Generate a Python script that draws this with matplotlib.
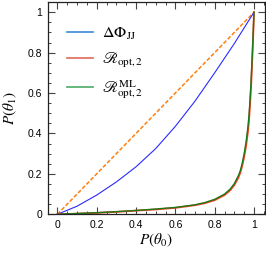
import matplotlib
matplotlib.use('Agg')
import matplotlib.pyplot as plt
from matplotlib.lines import Line2D
from matplotlib.ticker import MultipleLocator

plt.rcParams['mathtext.fontset'] = 'stix'
plt.rcParams['font.family'] = ['Liberation Sans', 'DejaVu Sans']

# diagonal reference
diag_x = [0.0, 1.0]
diag_y = [0.0, 1.0]

# Delta Phi_JJ
jj_x = [0.0, 0.1, 0.2, 0.3, 0.4, 0.5, 0.6, 0.7, 0.8, 0.9, 1.0]
jj_y = [0.0, 0.04, 0.095, 0.16, 0.235, 0.325, 0.435, 0.56, 0.70, 0.845, 1.0]

# R_opt,2 and R^ML_opt,2
r_x = [0.0, 0.1, 0.2, 0.3, 0.4, 0.5, 0.6, 0.7, 0.75, 0.8, 0.85, 0.88, 0.9,
       0.92, 0.93, 0.94, 0.95, 0.96, 0.97, 0.975, 0.98, 0.985, 0.99,
       0.995, 1.0]
r_opt_y = [0.0, 0.003, 0.007, 0.012, 0.018, 0.024, 0.032, 0.045, 0.055,
           0.07, 0.095, 0.12, 0.145, 0.18, 0.205, 0.24, 0.285, 0.34, 0.415,
           0.47, 0.545, 0.63, 0.74, 0.86, 1.0]
r_ml_y = [0.0, 0.004, 0.008, 0.013, 0.019, 0.026, 0.034, 0.047, 0.058,
          0.074, 0.10, 0.126, 0.152, 0.19, 0.215, 0.252, 0.30, 0.36, 0.44,
          0.495, 0.57, 0.655, 0.76, 0.875, 1.0]

labels = [r'$\Delta\Phi_{\rm JJ}$', r'$\mathscr{R}_{\rm opt,2}$',
          r'$\mathscr{R}^{\rm ML}_{\rm opt,2}$']

fig = plt.figure(figsize=(2.66, 2.54), dpi=100)
ax = fig.add_axes([0.1786, 0.1563, 0.8177, 0.8339])

ax.plot(diag_x, diag_y, color='#ff7f0e', lw=1.1, dashes=(2.6, 1.3))
ax.plot(jj_x, jj_y, color='#2a2aff', lw=0.8)
ax.plot(r_x, r_opt_y, color='#ff3a1a', lw=1.3)
ax.plot(r_x, r_ml_y, color='#1a7a1a', lw=1.0)

ax.set_xlim(-0.05, 1.056)
ax.set_ylim(0, 1.048)
ax.xaxis.set_minor_locator(MultipleLocator(0.05))
ax.yaxis.set_minor_locator(MultipleLocator(0.05))
ax.set_xticks([0, 0.2, 0.4, 0.6, 0.8, 1.0], ['0', '0.2', '0.4', '0.6', '0.8', '1'])
ax.set_yticks([0, 0.2, 0.4, 0.6, 0.8, 1.0], ['0', '0.2', '0.4', '0.6', '0.8', '1'])
ax.tick_params(which='both', direction='in', top=True, right=True,
               labelsize=7.5, color='#444444', pad=4)
ax.tick_params(which='major', length=4.8, width=0.8)
ax.tick_params(which='minor', length=2.5, width=0.7)
for s in ax.spines.values():
    s.set_linewidth(0.9)
    s.set_color('#222222')

ax.set_xlabel(r'$P(\theta_0)$', fontsize=11, labelpad=1)
ax.set_ylabel(r'$P(\theta_1)$', fontsize=11, labelpad=6)

handles = [Line2D([], [], color='#3a8ad8', lw=1.2),
           Line2D([], [], color='#e06a55', lw=1.2),
           Line2D([], [], color='#4aaa66', lw=1.2)]
ax.legend(handles, labels, loc='upper left', frameon=False, fontsize=11.5,
          handlelength=1.65, handletextpad=0.55, labelspacing=0.55,
          borderaxespad=0.0, bbox_to_anchor=(0.06, 0.92))

fig.savefig('out.png', dpi=100)
